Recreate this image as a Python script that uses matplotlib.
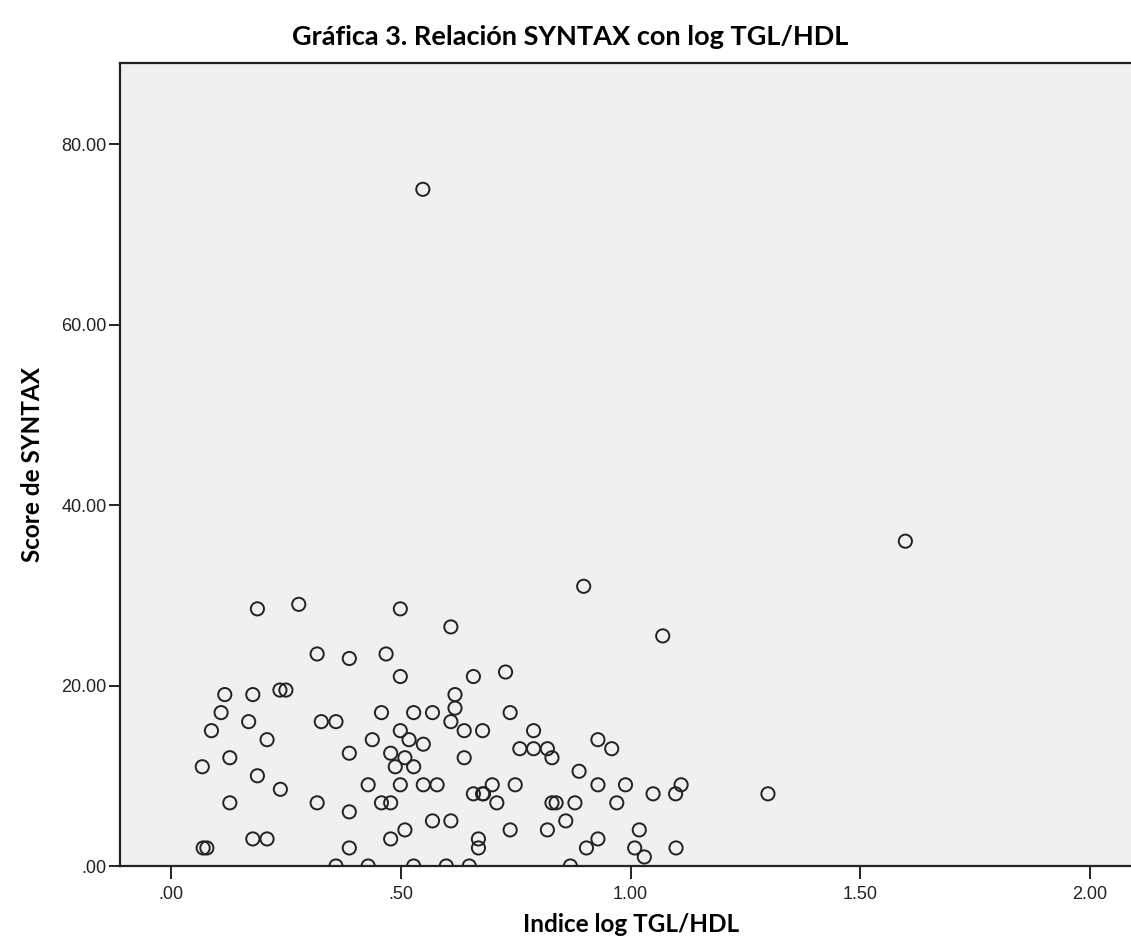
import matplotlib
matplotlib.use("Agg")
import matplotlib.pyplot as plt
from matplotlib.ticker import FuncFormatter

# Indice log TGL/HDL (x) vs Score de SYNTAX (y)
log_tgl_hdl = [
    0.188, 0.278, 0.318, 0.388, 0.117, 0.178, 0.237, 0.250, 0.109, 0.169,
    0.327, 0.359, 0.088, 0.209, 0.388, 0.128, 0.068, 0.188, 0.238, 0.128,
    0.318, 0.388, 0.178, 0.209, 0.070, 0.078, 0.388, 0.359,
    0.898, 0.499, 0.609, 0.468, 0.499, 0.658, 0.728, 0.618, 0.618, 0.458,
    0.528, 0.569, 0.738, 0.609, 0.499, 0.638, 0.678, 0.789, 0.438, 0.518,
    0.549, 0.478, 0.509, 0.638, 0.759, 0.789, 0.819, 0.829, 0.488, 0.528,
    0.888, 0.429, 0.499, 0.549, 0.579, 0.699, 0.749, 0.658, 0.678, 0.680,
    0.458, 0.478, 0.709, 0.829, 0.838, 0.879, 0.569, 0.609, 0.859, 0.478,
    0.509, 0.669, 0.669, 0.738, 0.819, 0.904, 0.429, 0.528, 0.599, 0.649,
    0.869,
    1.070, 0.929, 0.959, 0.929, 0.989, 1.110, 1.098, 1.049, 1.299, 0.970,
    1.019, 0.929, 1.009, 1.030, 1.099, 0.548, 1.598,
]
syntax_score = [
    28.5, 29.0, 23.5, 23.0, 19.0, 19.0, 19.5, 19.5, 17.0, 16.0,
    16.0, 16.0, 15.0, 14.0, 12.5, 12.0, 11.0, 10.0, 8.5, 7.0,
    7.0, 6.0, 3.0, 3.0, 2.0, 2.0, 2.0, 0.0,
    31.0, 28.5, 26.5, 23.5, 21.0, 21.0, 21.5, 19.0, 17.5, 17.0,
    17.0, 17.0, 17.0, 16.0, 15.0, 15.0, 15.0, 15.0, 14.0, 14.0,
    13.5, 12.5, 12.0, 12.0, 13.0, 13.0, 13.0, 12.0, 11.0, 11.0,
    10.5, 9.0, 9.0, 9.0, 9.0, 9.0, 9.0, 8.0, 8.0, 8.0,
    7.0, 7.0, 7.0, 7.0, 7.0, 7.0, 5.0, 5.0, 5.0, 3.0,
    4.0, 3.0, 2.0, 4.0, 4.0, 2.0, 0.0, 0.0, 0.0, 0.0,
    0.0,
    25.5, 14.0, 13.0, 9.0, 9.0, 9.0, 8.0, 8.0, 8.0, 7.0,
    4.0, 3.0, 2.0, 1.0, 2.0, 75.0, 36.0,
]

x_ticks = [0.0, 0.5, 1.0, 1.5, 2.0]
y_ticks = [0, 20, 40, 60, 80]


def spss_fmt(v, pos):
    s = f"{v:.2f}"
    if s.startswith("0."):
        s = s[1:]
    return s


label_font = ["Lato", "DejaVu Sans"]
tick_font = ["Liberation Sans", "DejaVu Sans"]

fig = plt.figure(figsize=(11.31, 9.47), dpi=100)
ax = fig.add_axes([120 / 1131, 1 - 866 / 947, 1 - 120 / 1131, (866 - 63) / 947])
ax.set_facecolor("#f0f0f0")

ax.scatter(log_tgl_hdl, syntax_score, s=90, facecolors="none",
           edgecolors="#222222", linewidths=1.4, zorder=3)

ax.set_xlim(-0.111, 2.089)
ax.set_ylim(0, 89)
ax.set_xticks(x_ticks)
ax.set_yticks(y_ticks)
ax.xaxis.set_major_formatter(FuncFormatter(spss_fmt))
ax.yaxis.set_major_formatter(FuncFormatter(spss_fmt))
ax.tick_params(axis="x", direction="out", length=9.5, width=1.4, pad=5, colors="#222222")
ax.tick_params(axis="y", direction="out", length=8, width=1.4, pad=1.5, colors="#222222")
for lbl in ax.get_xticklabels() + ax.get_yticklabels():
    lbl.set_family(tick_font)
    lbl.set_fontsize(13)

for side in ["left", "bottom", "top"]:
    ax.spines[side].set_color("#222222")
    ax.spines[side].set_linewidth(1.6)
ax.spines["right"].set_visible(False)

fig.text(570 / 1131, 1 - 37 / 947, "Gráfica 3. Relación SYNTAX con log TGL/HDL",
         ha="center", va="center", fontsize=19.5, fontweight="bold", family=label_font)
fig.text(631 / 1131, 1 - 924 / 947, "Indice log TGL/HDL",
         ha="center", va="center", fontsize=17.5, fontweight="bold", family=label_font)
fig.text(33 / 1131, 1 - 464 / 947, "Score de SYNTAX", rotation=90,
         ha="center", va="center", fontsize=17.5, fontweight="bold", family=label_font)

fig.savefig("out.png", dpi=100)
